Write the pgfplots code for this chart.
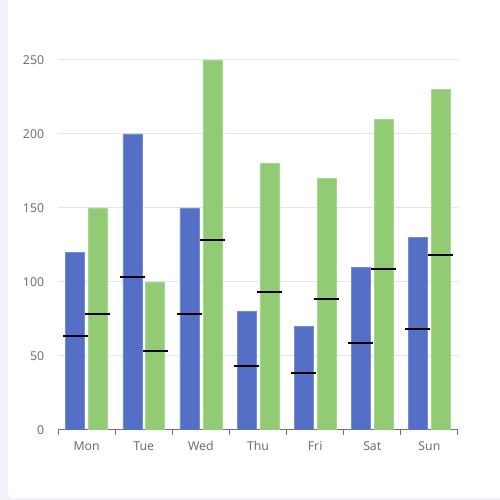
\documentclass[border=0pt]{standalone}
\usepackage{pgfplots}
\pgfplotsset{compat=1.18}
\usepackage{fontspec}
\setmainfont{Noto Sans}
\definecolor{cblue}{HTML}{5470C6}
\definecolor{cgreen}{HTML}{91CC75}
\definecolor{clabel}{HTML}{6E7079}
\definecolor{cgrid}{HTML}{E0E6F1}
\definecolor{cpage}{HTML}{F2F3F8}
\begin{document}
\begin{tikzpicture}
\useasboundingbox (0,0) rectangle (375pt,375pt);
\fill[cpage] (0,0) rectangle (375pt,375pt);
\begin{scope}
\clip (0,0) rectangle (375pt,375pt);
\fill[white, rounded corners=4.5pt] (6pt,1.5pt) rectangle (390pt,380pt);
\end{scope}
\begin{axis}[
  at={(43.5pt,52.5pt)}, anchor=south west,
  scale only axis, width=300pt, height=277.5pt,
  xmin=-0.5, xmax=6.5, ymin=0, ymax=250,
  xtick={0,...,6}, xticklabels={Mon,Tue,Wed,Thu,Fri,Sat,Sun},
  minor xtick={-0.5,0.5,...,6.5},
  ytick={0,50,...,250},
  axis x line*=bottom, axis y line*=left,
  x axis line style={-, draw=clabel, line width=0.75pt},
  y axis line style={draw=none},
  every major x tick/.style={draw=none},
  every minor x tick/.style={draw=clabel, line width=0.75pt},
  every major y tick/.style={draw=none},
  minor tick length=3.75pt,
  tick align=outside,
  ymajorgrids, grid style={cgrid, line width=0.75pt},
  ticklabel style={font=\fontsize{9.2}{10}\selectfont, text=clabel},
  yticklabel style={inner sep=0pt, xshift=-6pt},
  xticklabel style={inner sep=0pt, yshift=-4pt},
  /pgf/number format/assume math mode=true,
]
\addplot[ybar, bar width=0.333, bar shift=-0.2, fill=cblue, draw=cblue!80!white, line width=0.4pt]
  coordinates {(0,120) (1,200) (2,150) (3,80) (4,70) (5,110) (6,130)};
\addplot[ybar, bar width=0.333, bar shift=0.2, fill=cgreen, draw=cgreen!80!white, line width=0.4pt]
  coordinates {(0,150) (1,100) (2,250) (3,180) (4,170) (5,210) (6,230)};
\addplot[only marks, mark=-, mark size=9.375pt, mark options={line width=1.5pt, draw=black}]
  coordinates {(-0.2,63.5) (0.8,103.5) (1.8,78.5) (2.8,43.5) (3.8,38.5) (4.8,58.5) (5.8,68.5)};
\addplot[only marks, mark=-, mark size=9.375pt, mark options={line width=1.5pt, draw=black}]
  coordinates {(0.2,78.5) (1.2,53.5) (2.2,128.5) (3.2,93.5) (4.2,88.5) (5.2,108.5) (6.2,118.5)};
\end{axis}
\end{tikzpicture}
\end{document}
